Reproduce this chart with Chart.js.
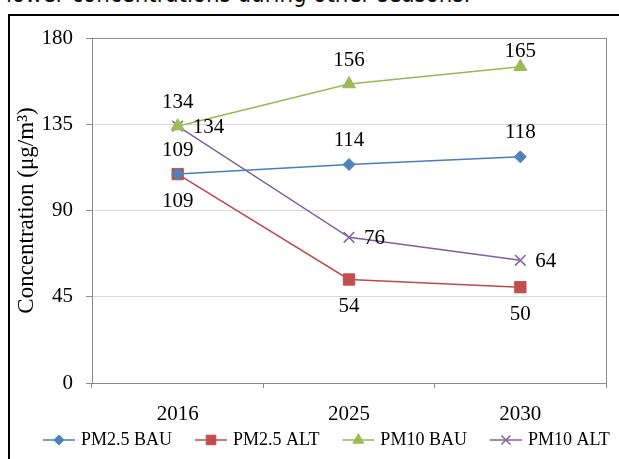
<!DOCTYPE html>
<html>
<head>
<meta charset="utf-8">
<script src="https://cdn.jsdelivr.net/npm/chart.js@4.4.1/dist/chart.umd.min.js"></script>
<style>
  body { margin: 0; background: #fff; overflow: hidden; }
  #wrap { position: relative; width: 619px; height: 459px; overflow: hidden; }
  #frame { position: absolute; left: 8px; top: 14px; width: 700px; height: 500px;
           border-left: 2px solid #000; border-top: 2px solid #000; }
  #caption { position: absolute; left: 6px; top: -21px; font-family: "DejaVu Sans", sans-serif;
             font-size: 25px; color: #111; white-space: nowrap; transform-origin: 0 0; }
  #myChart { position: absolute; left: 0; top: 0; }
</style>
</head>
<body>
<div id="wrap">
  <div id="caption">lower concentrations during other seasons.</div>
  <div id="frame"></div>
  <canvas id="myChart" width="619" height="459"></canvas>
</div>
<script>
// data
var years = ["2016", "2025", "2030"];
var pm25_bau = [109, 114, 118];
var pm25_alt = [109, 54, 50];
var pm10_bau = [134, 156, 165];
var pm10_alt = [134, 76, 64];
var yTicks = [0, 45, 90, 135, 180];

var serif = "'Liberation Serif', 'Times New Roman', serif";

// stretch the cut-off caption to its width in the picture
var cap = document.getElementById("caption");
cap.style.transform = "scaleX(" + (464 / cap.offsetWidth) + ")";

// label placement per series: above, below, right
var labelPos = ["above", "below", "above", "right"];

const dataLabels = {
    id: "dataLabels",
    afterDatasetsDraw(chart) {
        const ctx = chart.ctx;
        const area = chart.chartArea;
        ctx.save();
        ctx.font = "21px " + serif;
        ctx.fillStyle = "#000";
        ctx.textBaseline = "middle";
        chart.data.datasets.forEach(function(ds, i){
            const meta = chart.getDatasetMeta(i);
            meta.data.forEach(function(pt, j){
                let x = pt.x, y = pt.y;
                if (labelPos[i] == "above") {
                    ctx.textAlign = "center";
                    y = Math.max(y - 24, area.top + 13);
                } else if (labelPos[i] == "below") {
                    ctx.textAlign = "center";
                    y = y + 27;
                } else {
                    ctx.textAlign = "left";
                    x = x + 15;
                    y = y + 1;
                }
                ctx.fillText(String(ds.data[j]), x, y);
            });
        });
        ctx.restore();
    }
};

// grey border round the plot area
const plotBorder = {
    id: "plotBorder",
    beforeDatasetsDraw(chart) {
        const a = chart.chartArea;
        const ctx = chart.ctx;
        ctx.save();
        ctx.strokeStyle = "#8c8c8c";
        ctx.lineWidth = 1;
        ctx.strokeRect(Math.round(a.left) + 0.5, Math.round(a.top) + 0.5,
                       Math.round(a.right - a.left), Math.round(a.bottom - a.top));
        ctx.restore();
    }
};

// Excel style legend: short line with the marker on it, then the name
const lineLegend = {
    id: "lineLegend",
    afterDraw(chart) {
        const ctx = chart.ctx;
        ctx.save();
        ctx.font = "18px " + serif;
        ctx.textBaseline = "middle";
        let x = 43;
        const y = 440;
        chart.data.datasets.forEach(function(ds){
            ctx.strokeStyle = ds.borderColor;
            ctx.lineWidth = 1.5;
            ctx.beginPath();
            ctx.moveTo(x, y);
            ctx.lineTo(x + 32, y);
            ctx.stroke();
            ctx.fillStyle = ds.pointBackgroundColor;
            ctx.strokeStyle = ds.pointBorderColor;
            ctx.lineWidth = ds.pointBorderWidth;
            Chart.helpers.drawPoint(ctx, {
                pointStyle: ds.pointStyle,
                radius: ds.pointRadius * 0.85,
                borderWidth: ds.pointBorderWidth
            }, x + 16, y);
            ctx.fillStyle = "#000";
            ctx.textAlign = "left";
            ctx.fillText(ds.label, x + 38, y);
            x = x + 38 + ctx.measureText(ds.label).width + 23;
        });
        ctx.restore();
    }
};

function series(label, data, line, fill, style, r) {
    return {
        label: label,
        data: data,
        borderColor: line,
        borderWidth: 1.5,
        backgroundColor: fill,
        pointStyle: style,
        pointRadius: r,
        pointHoverRadius: r,
        pointBackgroundColor: fill,
        pointBorderColor: fill,
        pointBorderWidth: style == "crossRot" ? 1.5 : 1,
        tension: 0
    };
}

const myChart = document.querySelector("#myChart").getContext("2d");

const chart = new Chart(myChart, {
    type: "line",
    data: {
        labels: years,
        datasets: [
            series("PM2.5 BAU", pm25_bau, "#4a7ebb", "#4f81bd", "rectRot", 6),
            series("PM2.5 ALT", pm25_alt, "#be4b48", "#c0504d", "rect", 8),
            series("PM10 BAU", pm10_bau, "#98b954", "#9bbb59", "triangle", 7.5),
            series("PM10 ALT", pm10_alt, "#7d60a0", "#8064a2", "crossRot", 7.5)
        ]
    },
    options: {
        responsive: false,
        animation: false,
        layout: { padding: { top: 38, right: 13, left: 0, bottom: 0 } },
        plugins: {
            legend: { display: false },
            tooltip: { enabled: false }
        },
        scales: {
            x: {
                offset: true,
                afterFit: function(scale){ scale.height = 76; },
                grid: { offset: true, drawOnChartArea: false, drawTicks: true, tickLength: 5,
                        color: "#8c8c8c" },
                border: { color: "#8c8c8c" },
                ticks: { color: "#000", font: { family: serif, size: 21 }, padding: 14 }
            },
            y: {
                min: 0,
                max: 180,
                afterFit: function(scale){ scale.width = 92; },
                afterBuildTicks: function(scale){
                    scale.ticks = yTicks.map(function(v){ return { value: v }; });
                },
                grid: { color: "#d9d9d9", tickColor: "#8c8c8c", tickLength: 6 },
                border: { color: "#8c8c8c" },
                ticks: { color: "#000", font: { family: serif, size: 21 }, padding: 13 },
                title: {
                    display: true,
                    text: "Concentration (μg/m³)",
                    color: "#000",
                    font: { family: serif, size: 23 },
                    padding: { top: 13, bottom: 0 }
                }
            }
        }
    },
    plugins: [plotBorder, dataLabels, lineLegend]
});
</script>
</body>
</html>
